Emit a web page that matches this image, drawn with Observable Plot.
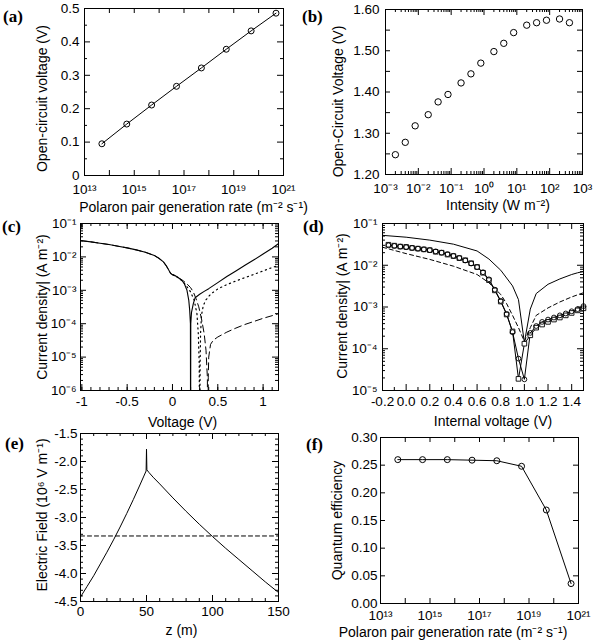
<!DOCTYPE html>
<html><head><meta charset="utf-8">
<script src="https://cdn.jsdelivr.net/npm/d3@7"></script>
<script src="https://cdn.jsdelivr.net/npm/@observablehq/plot@0.6"></script>
<style>
html,body{margin:0;padding:0;background:#fff;}
#fig{position:relative;width:600px;height:644px;overflow:hidden;font-family:"Liberation Sans",Arial,Helvetica,sans-serif;}
.panel{position:absolute;}
.tag{position:absolute;font-family:"Liberation Serif","Times New Roman",serif;font-weight:bold;font-size:17px;line-height:17px;color:#000;}
</style></head><body><div id="fig"></div>
<script>
// ---------- (a) ----------
const aRate = [5e13, 5e14, 5e15, 5e16, 5e17, 5e18, 5e19, 5e20];
const aVoc = [0.095, 0.154, 0.211, 0.267, 0.322, 0.378, 0.433, 0.486];
const aXTickLabels = [1e13, 1e15, 1e17, 1e19, 1e21];
const aYTickLabels = [0, 0.1, 0.2, 0.3, 0.4, 0.5];
// ---------- (b) ----------
const bIntensity = [0.002, 0.004, 0.008, 0.02, 0.04, 0.08, 0.2, 0.4, 0.8, 2, 4, 8, 20, 40, 80, 200, 400];
const bVoc = [1.248, 1.278, 1.318, 1.345, 1.376, 1.394, 1.422, 1.444, 1.470, 1.498, 1.518, 1.544, 1.562, 1.568, 1.574, 1.577, 1.568];
const bXTickLabels = [1e-3, 1e-2, 1e-1, 1, 10, 100, 1000];
const bYTickLabels = [1.2, 1.3, 1.4, 1.5, 1.6];
// ---------- (c) ----------
const cSolidV = [-1.02, -0.9, -0.8, -0.7, -0.6, -0.5, -0.4, -0.3, -0.2, -0.15, -0.1, -0.07, -0.04, -0.02, 0.0, 0.03, 0.06, 0.1, 0.13, 0.16, 0.18, 0.19, 0.198, 0.2, 0.202, 0.21, 0.23, 0.25, 0.3, 0.35, 0.4, 0.5, 0.6, 0.7, 0.8, 0.9, 1.0, 1.1, 1.17];
const cSolidJ = [3.09e-2, 2.82e-2, 2.57e-2, 2.34e-2, 2.09e-2, 1.86e-2, 1.62e-2, 1.38e-2, 1.10e-2, 9.1e-3, 7.1e-3, 5.5e-3, 4.0e-3, 3.2e-3, 2.95e-3, 2.75e-3, 2.45e-3, 2.0e-3, 1.6e-3, 1.0e-3, 5.0e-4, 2.5e-4, 1.0e-4, 1e-8, 1.0e-4, 2.2e-4, 4.0e-4, 6.0e-4, 7.6e-4, 9.3e-4, 1.12e-3, 1.7e-3, 2.6e-3, 3.8e-3, 5.6e-3, 8.2e-3, 1.22e-2, 1.82e-2, 2.5e-2];
const cDotV = [0.0, 0.05, 0.1, 0.15, 0.2, 0.24, 0.27, 0.285, 0.295, 0.3, 0.305, 0.31, 0.32, 0.34, 0.37, 0.42, 0.5, 0.6, 0.7, 0.8, 0.9, 1.0, 1.1, 1.17];
const cDotJ = [2.95e-3, 2.5e-3, 2.0e-3, 1.41e-3, 8.9e-4, 5.0e-4, 2.0e-4, 5.0e-5, 6.3e-6, 1e-8, 6.3e-6, 5.0e-5, 1.78e-4, 3.5e-4, 5.2e-4, 7.6e-4, 1.1e-3, 1.48e-3, 1.9e-3, 2.4e-3, 3.0e-3, 3.8e-3, 4.8e-3, 5.6e-3];
const cDashV = [-1.02, -0.9, -0.8, -0.7, -0.6, -0.5, -0.4, -0.3, -0.2, -0.15, -0.1, -0.07, -0.04, -0.02, 0.0, 0.05, 0.1, 0.15, 0.2, 0.23, 0.26, 0.29, 0.32, 0.35, 0.37, 0.385, 0.39, 0.395, 0.4, 0.42, 0.45, 0.5, 0.6, 0.7, 0.8, 0.9, 1.0, 1.1, 1.17];
const cDashJ = [3.09e-2, 2.82e-2, 2.57e-2, 2.34e-2, 2.09e-2, 1.86e-2, 1.62e-2, 1.38e-2, 1.10e-2, 9.1e-3, 7.1e-3, 5.5e-3, 4.0e-3, 3.2e-3, 2.95e-3, 2.5e-3, 2.1e-3, 1.66e-3, 1.2e-3, 8.9e-4, 5.6e-4, 3.2e-4, 1.41e-4, 5.0e-5, 1.6e-5, 2.5e-6, 1e-8, 2.5e-6, 1.0e-5, 2.4e-5, 3.2e-5, 4.0e-5, 5.6e-5, 7.4e-5, 9.5e-5, 1.17e-4, 1.45e-4, 1.74e-4, 2.0e-4];
const cXTickLabels = [-1, -0.5, 0, 0.5, 1];
const cYTickLabels = [1e-6, 1e-5, 1e-4, 1e-3, 1e-2, 1e-1];
// ---------- (d) ----------
const dSolidV = [-0.2, 0, 0.2, 0.4, 0.6, 0.7, 0.8, 0.9, 0.95, 1.0, 1.05, 1.1, 1.2, 1.3, 1.4, 1.45, 1.5];
const dSolidJ = [5.2e-2, 4.7e-2, 4.0e-2, 3.2e-2, 2.2e-2, 1.41e-2, 7.6e-3, 3.2e-3, 1.5e-3, 1.4e-4, 8.9e-4, 2.1e-3, 3.5e-3, 4.7e-3, 6.0e-3, 6.6e-3, 7.1e-3];
const dDashV = [-0.2, 0, 0.2, 0.4, 0.6, 0.7, 0.8, 0.85, 0.9, 0.95, 1.0, 1.05, 1.1, 1.2, 1.3, 1.4, 1.5];
const dDashJ = [2.7e-2, 1.9e-2, 1.38e-2, 9.5e-3, 6.0e-3, 3.8e-3, 2.0e-3, 1.2e-3, 6.3e-4, 3.2e-4, 1.5e-4, 3.2e-4, 6.3e-4, 9.5e-4, 1.32e-3, 1.74e-3, 2.2e-3];
const dMarkV = [-0.15, -0.1, -0.05, 0, 0.05, 0.1, 0.15, 0.2, 0.25, 0.3, 0.35, 0.4, 0.45, 0.5, 0.55, 0.6, 0.65, 0.7, 0.75, 0.8, 0.85, 0.9, 0.95, 1.0, 1.05, 1.1, 1.15, 1.2, 1.25, 1.3, 1.35, 1.4, 1.45, 1.5];
const dSquareJ = [3.1e-2, 2.95e-2, 2.8e-2, 2.75e-2, 2.6e-2, 2.5e-2, 2.4e-2, 2.3e-2, 2.1e-2, 2.0e-2, 1.8e-2, 1.66e-2, 1.48e-2, 1.32e-2, 1.12e-2, 9.1e-3, 6.6e-3, 4.4e-3, 2.5e-3, 1.35e-3, 6.6e-4, 2.6e-4, 1.9e-5, 1.32e-4, 2.1e-4, 3.2e-4, 3.8e-4, 4.4e-4, 5.0e-4, 5.6e-4, 6.3e-4, 7.2e-4, 8.3e-4, 9.3e-4];
const dCircleJ = [3.0e-2, 2.9e-2, 2.8e-2, 2.7e-2, 2.6e-2, 2.5e-2, 2.4e-2, 2.3e-2, 2.15e-2, 2.0e-2, 1.85e-2, 1.68e-2, 1.5e-2, 1.3e-2, 1.1e-2, 9.0e-3, 6.8e-3, 4.6e-3, 2.6e-3, 1.4e-3, 6.8e-4, 2.5e-4, 5.8e-5, 1.85e-5, 2.4e-4, 3.5e-4, 4.4e-4, 5.0e-4, 5.6e-4, 6.3e-4, 7.0e-4, 7.9e-4, 8.9e-4, 1.05e-3];
const dXTickLabels = [-0.2, 0.0, 0.2, 0.4, 0.6, 0.8, 1.0, 1.2, 1.4];
const dYTickLabels = [1e-5, 1e-4, 1e-3, 1e-2, 1e-1];
// ---------- (e) ----------
const eZ = [0, 5, 10, 15, 20, 25, 30, 35, 40, 45, 48, 49.7, 50, 50.3, 52, 55, 60, 70, 80, 90, 100, 110, 120, 130, 140, 150];
const eField = [-4.42, -4.23, -4.04, -3.83, -3.62, -3.40, -3.17, -2.93, -2.68, -2.42, -2.26, -2.17, -1.78, -2.15, -2.20, -2.28, -2.40, -2.65, -2.89, -3.12, -3.34, -3.55, -3.75, -3.95, -4.15, -4.34];
const eAvgZ = [0, 150];
const eAvgField = [-3.33, -3.33];
const eXTickLabels = [0, 50, 100, 150];
const eYTickLabels = [-4.5, -4.0, -3.5, -3.0, -2.5, -2.0, -1.5];
// ---------- (f) ----------
const fRate = [5e13, 5e14, 5e15, 5e16, 5e17, 5e18, 5e19, 5e20];
const fQE = [0.260, 0.260, 0.260, 0.259, 0.258, 0.248, 0.169, 0.036];
const fXTickLabels = [1e13, 1e15, 1e17, 1e19, 1e21];
const fYTickLabels = [0, 0.05, 0.10, 0.15, 0.20, 0.25, 0.30];

// ---------- helpers ----------
const SUP = "⁰¹²³⁴⁵⁶⁷⁸⁹";
const sup = n => String(n).replace(/[-0-9]/g, c => c === "-" ? "⁻" : SUP[+c]);
const pow10 = d => "10" + sup(Math.round(Math.log10(d)));
const decades = (e0, e1) => { const o = []; for (let e = e0; e <= e1; e++) o.push(10 ** e); return o; };
const logMinor = (e0, e1) => { const o = []; for (let e = e0; e < e1; e++) for (let k = 2; k <= 9; k++) o.push(k * 10 ** e); return o; };
const lin = (a, b, s) => { const o = []; const n = Math.round((b - a) / s); for (let i = 0; i <= n; i++) o.push(+(a + i * s).toFixed(6)); return o; };
const FONT = '"Liberation Sans", Arial, Helvetica, sans-serif';
const TICKFONT = 13.5;
const fig = document.getElementById("fig");

function makePanel(c) {
  const fw = c.width - c.ml - c.mr, fh = c.height - c.mt - c.mb;
  const marks = [];
  for (const [vals, len] of c.xTicks) {
    marks.push(Plot.tickX(vals, {x: d => d, insetTop: fh - len, stroke: "#000", strokeWidth: 1}));
    marks.push(Plot.tickX(vals, {x: d => d, insetBottom: fh - len, stroke: "#000", strokeWidth: 1}));
  }
  for (const [vals, len] of c.yTicks) {
    marks.push(Plot.tickY(vals, {y: d => d, insetRight: fw - len, stroke: "#000", strokeWidth: 1}));
    marks.push(Plot.tickY(vals, {y: d => d, insetLeft: fw - len, stroke: "#000", strokeWidth: 1}));
  }
  marks.push(Plot.axisX(c.xLabels, {anchor: "bottom", tickSize: 0, tickPadding: c.xPad, tickFormat: c.xFmt, label: null, fontSize: TICKFONT}));
  marks.push(Plot.axisY(c.yLabels, {anchor: "left", tickSize: 0, tickPadding: c.yPad, tickFormat: c.yFmt, label: null, fontSize: TICKFONT}));
  marks.push(...c.data);
  marks.push(Plot.frame({stroke: "#000", strokeWidth: 1}));
  marks.push(Plot.text([c.yTitle], {text: d => d, frameAnchor: "left", textAnchor: "middle", lineAnchor: "middle", rotate: -90, dx: c.yTdx, dy: c.yTdy, fontSize: 14, fill: "#000"}));
  marks.push(Plot.text([c.xTitle], {text: d => d, frameAnchor: "bottom", textAnchor: "middle", lineAnchor: "middle", dx: c.xTdx, dy: c.xTdy, fontSize: 14, fill: "#000"}));
  const svg = Plot.plot({
    width: c.width, height: c.height,
    marginLeft: c.ml, marginRight: c.mr, marginTop: c.mt, marginBottom: c.mb,
    x: c.x, y: c.y,
    style: {background: "transparent", overflow: "visible", fontFamily: FONT, fontSize: "13px", color: "#000"},
    marks
  });
  const div = document.createElement("div");
  div.className = "panel";
  div.style.left = c.left + "px"; div.style.top = c.top + "px";
  div.style.width = c.width + "px"; div.style.height = c.height + "px";
  div.appendChild(svg);
  fig.appendChild(div);
  const tag = document.createElement("div");
  tag.className = "tag";
  tag.textContent = c.tag;
  tag.style.left = c.tagX + "px"; tag.style.top = c.tagY + "px";
  fig.appendChild(tag);
}

const K = "#000";

// (a)
makePanel({
  left: 0, top: 0, width: 300, height: 215, ml: 84, mr: 17, mt: 8, mb: 40,
  x: {type: "log", domain: [1e13, 1e21]}, y: {domain: [0, 0.5]},
  xTicks: [[decades(13, 21), 5]], yTicks: [[lin(0, 0.5, 0.1), 6], [lin(0.05, 0.45, 0.1), 3]],
  xLabels: aXTickLabels, xPad: 9, xFmt: pow10,
  yLabels: aYTickLabels, yPad: 5, yFmt: d => d === 0 ? "0" : d.toFixed(1),
  data: [
    Plot.line(aVoc, {x: aRate, y: aVoc, stroke: K, strokeWidth: 1}),
    Plot.dot(aVoc, {x: aRate, y: aVoc, r: 3, stroke: K, fill: "none", strokeWidth: 1})
  ],
  yTitle: "Open-circuit voltage (V)", yTdx: -42, yTdy: 6.5,
  xTitle: "Polaron pair generation rate (m⁻² s⁻¹)", xTdx: 9.5, xTdy: 31.7,
  tag: "(a)", tagX: 3, tagY: 8
});

// (b)
makePanel({
  left: 300, top: 0, width: 300, height: 215, ml: 85, mr: 18, mt: 9, mb: 41,
  x: {type: "log", domain: [1e-3, 1e3]}, y: {domain: [1.2, 1.6]},
  xTicks: [[decades(-3, 3), 6], [logMinor(-3, 3), 3]], yTicks: [[lin(1.2, 1.6, 0.05), 5]],
  xLabels: bXTickLabels, xPad: 9, xFmt: pow10,
  yLabels: bYTickLabels, yPad: 6, yFmt: d => d.toFixed(2),
  data: [
    Plot.dot(bVoc, {x: bIntensity, y: bVoc, r: 3.2, stroke: K, fill: "none", strokeWidth: 1})
  ],
  yTitle: "Open-Circuit Voltage (V)", yTdx: -47, yTdy: 9.5,
  xTitle: "Intensity (W m⁻²)", xTdx: 14, xTdy: 31,
  tag: "(b)", tagX: 302, tagY: 8
});

// (c)
makePanel({
  left: 0, top: 215, width: 300, height: 210, ml: 80, mr: 22, mt: 8, mb: 35,
  x: {domain: [-1.015, 1.17]}, y: {type: "log", domain: [1e-6, 1e-1]},
  xTicks: [[lin(-1, 1, 0.5), 6], [lin(-1, 1.1, 0.1), 3]], yTicks: [[decades(-6, -1), 6], [logMinor(-6, -1), 3]],
  xLabels: cXTickLabels, xPad: 6, xFmt: d => String(d),
  yLabels: cYTickLabels, yPad: 4, yFmt: pow10,
  data: [
    Plot.line(cSolidJ, {x: cSolidV, y: cSolidJ, stroke: K, strokeWidth: 1.1, clip: true}),
    Plot.line(cDashJ, {x: cDashV, y: cDashJ, stroke: K, strokeWidth: 1, strokeDasharray: "7,4", clip: true}),
    Plot.line(cDotJ, {x: cDotV, y: cDotJ, stroke: K, strokeWidth: 1.2, strokeDasharray: "1.2,3.6", clip: true})
  ],
  yTitle: "Current density| (A m⁻²)", yTdx: -38.3, yTdy: 0,
  xTitle: "Voltage (V)", xTdx: 3, xTdy: 31.7,
  tag: "(c)", tagX: 2, tagY: 218
});

// (d)
makePanel({
  left: 300, top: 215, width: 300, height: 210, ml: 82, mr: 17, mt: 8, mb: 35,
  x: {domain: [-0.2, 1.5]}, y: {type: "log", domain: [1e-5, 1e-1]},
  xTicks: [[lin(-0.2, 1.4, 0.2), 6], [lin(-0.1, 1.5, 0.2), 3]], yTicks: [[decades(-5, -1), 6], [logMinor(-5, -1), 3]],
  xLabels: dXTickLabels, xPad: 6, xFmt: d => d.toFixed(1),
  yLabels: dYTickLabels, yPad: 5, yFmt: pow10,
  data: [
    Plot.line(dSolidJ, {x: dSolidV, y: dSolidJ, stroke: K, strokeWidth: 1, clip: true}),
    Plot.line(dDashJ, {x: dDashV, y: dDashJ, stroke: K, strokeWidth: 1, strokeDasharray: "4,3", clip: true}),
    Plot.line(dSquareJ, {x: dMarkV, y: dSquareJ, stroke: K, strokeWidth: 1, clip: true}),
    Plot.line(dCircleJ, {x: dMarkV, y: dCircleJ, stroke: K, strokeWidth: 1, clip: true}),
    Plot.dot(dSquareJ, {x: dMarkV, y: dSquareJ, symbol: "square", r: 2.6, stroke: K, fill: "white", strokeWidth: 0.9}),
    Plot.dot(dCircleJ, {x: dMarkV, y: dCircleJ, symbol: "circle", r: 2.4, stroke: K, fill: "none", strokeWidth: 0.9})
  ],
  yTitle: "Current density| (A m⁻²)", yTdx: -40, yTdy: -1,
  xTitle: "Internal voltage (V)", xTdx: 10, xTdy: 31,
  tag: "(d)", tagX: 303, tagY: 218
});

// (e)
makePanel({
  left: 0, top: 425, width: 300, height: 219, ml: 80, mr: 22, mt: 8, mb: 43,
  x: {domain: [0, 150]}, y: {domain: [-4.5, -1.5]},
  xTicks: [[lin(0, 150, 50), 6], [lin(0, 150, 10), 3]], yTicks: [[lin(-4.5, -1.5, 0.5), 6], [lin(-4.5, -1.5, 0.1), 3]],
  xLabels: eXTickLabels, xPad: 5, xFmt: d => String(d),
  yLabels: eYTickLabels, yPad: 3, yFmt: d => d.toFixed(1),
  data: [
    Plot.line(eField, {x: eZ, y: eField, stroke: K, strokeWidth: 1, clip: true}),
    Plot.line(eAvgField, {x: eAvgZ, y: eAvgField, stroke: K, strokeWidth: 1, strokeDasharray: "4,3", clip: true})
  ],
  yTitle: "Electric Field (10⁶ V m⁻¹)", yTdx: -38.3, yTdy: -2.5,
  xTitle: "z (m)", xTdx: 2, xTdy: 29,
  tag: "(e)", tagX: 5, tagY: 435
});

// (f)
makePanel({
  left: 300, top: 425, width: 300, height: 219, ml: 80, mr: 22, mt: 12, mb: 41,
  x: {type: "log", domain: [1e13, 1e21]}, y: {domain: [0, 0.3]},
  xTicks: [[decades(13, 21), 5]], yTicks: [[lin(0, 0.3, 0.05), 5]],
  xLabels: fXTickLabels, xPad: 7, xFmt: pow10,
  yLabels: fYTickLabels, yPad: 3, yFmt: d => d.toFixed(2),
  data: [
    Plot.line(fQE, {x: fRate, y: fQE, stroke: K, strokeWidth: 1}),
    Plot.dot(fQE, {x: fRate, y: fQE, r: 3, stroke: K, fill: "none", strokeWidth: 1})
  ],
  yTitle: "Quantum efficiency", yTdx: -43.3, yTdy: 0,
  xTitle: "Polaron pair generation rate (m⁻² s⁻¹)", xTdx: -26.5, xTdy: 29.5,
  tag: "(f)", tagX: 306, tagY: 436
});
</script></body></html>
